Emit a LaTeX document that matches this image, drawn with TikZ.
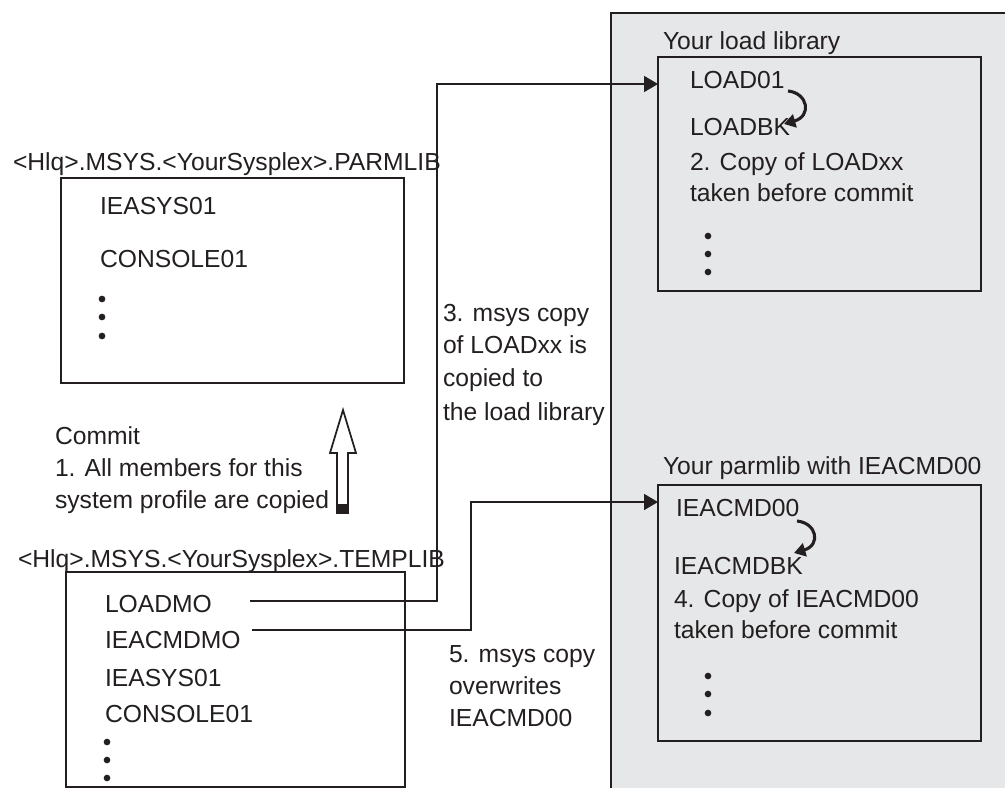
\documentclass[tikz,border=0pt]{standalone}
\usepackage{fontspec}
\setmainfont{Liberation Sans}
\usetikzlibrary{arrows.meta}
\definecolor{panel}{HTML}{E6E7E8}
\definecolor{ink}{HTML}{231F20}
\begin{document}
\begin{tikzpicture}[x=0.75pt,y=-0.75pt,
  txt/.style={anchor=base west,inner sep=0pt,outer sep=0pt,font=\fontsize{18.5}{22}\selectfont,text=ink},
  box/.style={draw=ink,line width=1.3pt,anchor=north west,inner sep=0pt,outer sep=0pt},
  conn/.style={draw=ink,line width=1.3pt,-{Triangle[length=10.5pt,width=12pt]}},
  curvarrow/.style={draw=ink,line width=2.3pt,-{Triangle[length=8.5pt,width=10pt]}},
  dotn/.style={circle,fill=ink,inner sep=0pt,minimum size=5pt}]
\useasboundingbox (0,0) rectangle (1005,788);
% grey panel
\fill[panel] (611,13) rectangle (1005,788);
\draw[ink,line width=1.3pt] (611,788) -- (611,13) -- (1005,13);

% ---------- right: load library ----------
\node[txt] (lbl1) at (663,50) {Your load library};
\node[box,minimum width=242.25pt,minimum height=175.5pt] (loadlib) at (658,57) {};
\node[txt] (load01) at (690,89) {LOAD01};
\node[txt] (loadbk) at (690,136) {LOADBK};
\node[txt] (c2a) at (690,171) {2. Copy of LOADxx};
\node[txt] (c2b) at (690,201) {taken before commit};
\node[dotn] (d1a) at (708,236) {};
\node[dotn] (d1b) at (708,254) {};
\node[dotn] (d1c) at (708,272) {};
\coordinate (b1s) at (788,91);
\coordinate (b1e) at (784,124);
\draw[curvarrow] (b1s) .. controls (808,93) and (812,116) .. (b1e);

% ---------- right: parmlib ----------
\node[txt] (lbl2) at (663,474) {Your parmlib with IEACMD00};
\node[box,minimum width=242.25pt,minimum height=192pt] (parmlib) at (658,485) {};
\node[txt] (ieacmd00) at (676,516) {IEACMD00};
\node[txt] (ieacmdbk) at (674,574) {IEACMDBK};
\node[txt] (c4a) at (674,607) {4. Copy of IEACMD00};
\node[txt] (c4b) at (674,638) {taken before commit};
\node[dotn] (d2a) at (708,676) {};
\node[dotn] (d2b) at (708,694) {};
\node[dotn] (d2c) at (708,713) {};
\coordinate (b2s) at (797,521);
\coordinate (b2e) at (794,553);
\draw[curvarrow] (b2s) .. controls (817,523) and (821,545) .. (b2e);

% ---------- left: PARMLIB ----------
\node[txt] (plbl) at (13,171) {<Hlq>.MSYS.<YourSysplex>.PARMLIB};
\node[box,minimum width=257.25pt,minimum height=153.75pt] (pbox) at (61,178) {};
\node[txt] (ieasys01) at (100,214) {IEASYS01};
\node[txt] (console01) at (100,267) {CONSOLE01};
\node[dotn] (d3a) at (102,299) {};
\node[dotn] (d3b) at (102,317) {};
\node[dotn] (d3c) at (102,336) {};

% commit text and hollow arrow
\node[txt] (cm1) at (55,444) {Commit};
\node[txt] (cm2) at (55,476) {1. All members for this};
\node[txt] (cm3) at (55,508) {system profile are copied};
\draw[ink,line width=1.3pt,fill=white,line join=miter] (343,410) -- (356,453) -- (348,453) -- (348,513) -- (337,513) -- (337,453) -- (330,453) -- cycle;
\fill[ink] (337,504) rectangle (348,513);

% ---------- left: TEMPLIB ----------
\node[txt] (tlbl) at (18,567) {<Hlq>.MSYS.<YourSysplex>.TEMPLIB};
\node[box,minimum width=254.25pt,minimum height=161.25pt] (tbox) at (66,572) {};
\node[txt] (loadmo) at (105,612) {LOADMO};
\node[txt] (ieacmdmo) at (105,648) {IEACMDMO};
\node[txt] (ieasys01b) at (105,686) {IEASYS01};
\node[txt] (console01b) at (105,722) {CONSOLE01};
\node[dotn] (d4a) at (107,742) {};
\node[dotn] (d4b) at (107,760) {};
\node[dotn] (d4c) at (107,778) {};

% step texts
\node[txt] (s3a) at (443,321) {3. msys copy};
\node[txt] (s3b) at (443,353) {of LOADxx is};
\node[txt] (s3c) at (443,386) {copied to};
\node[txt] (s3d) at (443,420) {the load library};
\node[txt] (s5a) at (449,662) {5. msys copy};
\node[txt] (s5b) at (449,694) {overwrites};
\node[txt] (s5c) at (449,726) {IEACMD00};

% connectors
\coordinate (st1) at (250,601);
\coordinate (r1) at (437,84);
\draw[conn] (st1) -| (r1) -- (r1 -| loadlib.west);
\coordinate (st2) at (252,630);
\coordinate (r2) at (471,502);
\draw[conn] (st2) -| (r2) -- (r2 -| parmlib.west);
\end{tikzpicture}
\end{document}
